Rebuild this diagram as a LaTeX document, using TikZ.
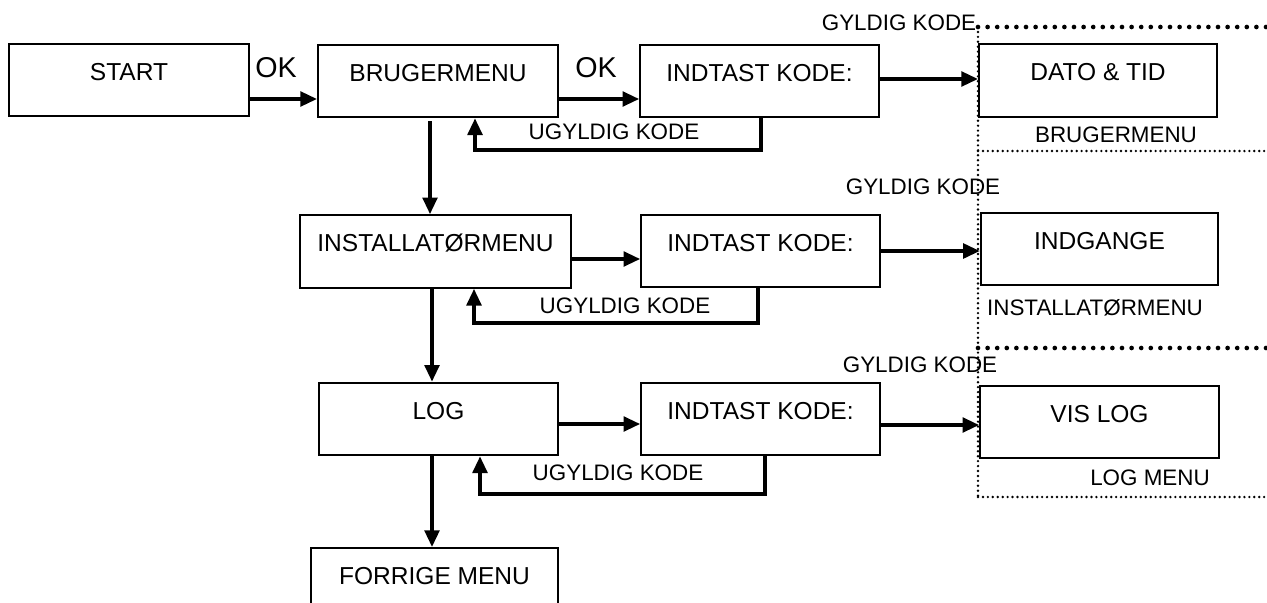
\documentclass[tikz,border=0pt]{standalone}
\usepackage{fontspec}
\setmainfont{Liberation Sans}
\usetikzlibrary{arrows.meta}
\tikzset{
  box/.style={draw, line width=1.5pt, inner xsep=0pt, inner ysep=0pt,
    text height=27.5pt, text depth=27pt, minimum width=#1,
    font=\fontsize{18.4}{20}\selectfont},
  box/.default=180pt,
  lbl/.style={inner sep=0pt, font=\fontsize{16.8}{18}\selectfont},
  oklbl/.style={inner sep=0pt, font=\fontsize{21.5}{24}\selectfont},
  arr/.style={line width=2.6pt, -{Triangle[length=12.5pt,width=11pt]}},
  bigdot/.style={line width=3.5pt, line cap=round, dash pattern=on 0pt off 7.2pt},
  smalldot/.style={line width=2pt, line cap=round, dash pattern=on 0pt off 3.7pt}
}
\begin{document}
\begin{tikzpicture}[x=0.75pt, y=-0.75pt]
\useasboundingbox (0,0) rectangle (1267,603);

% boxes
\node[box] (start) at (129,80) {START};
\node[box] (bruger) at (438,81) {BRUGERMENU};
\node[box=179pt] (ik1) at (759.5,81) {INDTAST KODE:};
\node[box=178.5pt] (dato) at (1098,80.5) {DATO \& TID};
\node[box=203pt] (inst) at (435.5,251.5) {INSTALLATØRMENU};
\node[box=179pt] (ik2) at (760.5,251) {INDTAST KODE:};
\node[box=178pt] (indgange) at (1099.5,249) {INDGANGE};
\node[box=179pt] (log) at (438.5,419) {LOG};
\node[box=179pt] (ik3) at (760.5,419) {INDTAST KODE:};
\node[box=179pt] (vislog) at (1099.5,422) {VIS LOG};
\node[box=185pt, text depth=60pt, anchor=north] (forrige) at (434.5,547) {FORRIGE MENU};

% labels
\node[oklbl] (ok1) at (276,68) {OK};
\node[oklbl] (ok2) at (596,68) {OK};
\node[lbl] (ug1) at (614,132) {UGYLDIG KODE};
\node[lbl] (ug2) at (625,306) {UGYLDIG KODE};
\node[lbl] (ug3) at (618,473) {UGYLDIG KODE};
\node[lbl] (gk1) at (899,23) {GYLDIG KODE};
\node[lbl] (gk2) at (923,187) {GYLDIG KODE};
\node[lbl] (gk3) at (920,365) {GYLDIG KODE};
\node[lbl] (m1) at (1116,135) {BRUGERMENU};
\node[lbl] (m2) at (1095,308) {INSTALLATØRMENU};
\node[lbl] (m3) at (1150,478) {LOG MENU};

% dotted frame
\draw[smalldot] (978,27) -- (978,498);
\draw[bigdot] (978,27) -- (1267,27);
\draw[smalldot] (978,151) -- (1267,151);
\draw[bigdot] (978,348) -- (1267,348);
\draw[smalldot] (978,497) -- (1267,497);

% horizontal arrows
\draw[arr] (start.east |- 0,99) -- (bruger.west |- 0,99);
\draw[arr] (bruger.east |- 0,99) -- (ik1.west |- 0,99);
\draw[arr] (ik1.east |- 0,79) -- (dato.west |- 0,79);
\draw[arr] (inst.east |- 0,259) -- (ik2.west |- 0,259);
\draw[arr] (ik2.east |- 0,251) -- (indgange.west |- 0,251);
\draw[arr] (log.east |- 0,424) -- (ik3.west |- 0,424);
\draw[arr] (ik3.east |- 0,425) -- (vislog.west |- 0,425);

% vertical arrows
\draw[arr] ([yshift=-2.25pt]bruger.south -| 430,0) -- (inst.north -| 430,0);
\draw[arr] (inst.south -| 432,0) -- (log.north -| 432,0);
\draw[arr] (log.south -| 432,0) -- (forrige.north -| 432,0);

% feedback loops
\draw[arr] (ik1.south -| 761,0) |- (475,150) -- (bruger.south -| 475,0);
\draw[arr] (ik2.south -| 758,0) |- (474,323) -- (inst.south -| 474,0);
\draw[arr] (ik3.south -| 765,0) |- (480,494) -- (log.south -| 480,0);
\end{tikzpicture}
\end{document}
